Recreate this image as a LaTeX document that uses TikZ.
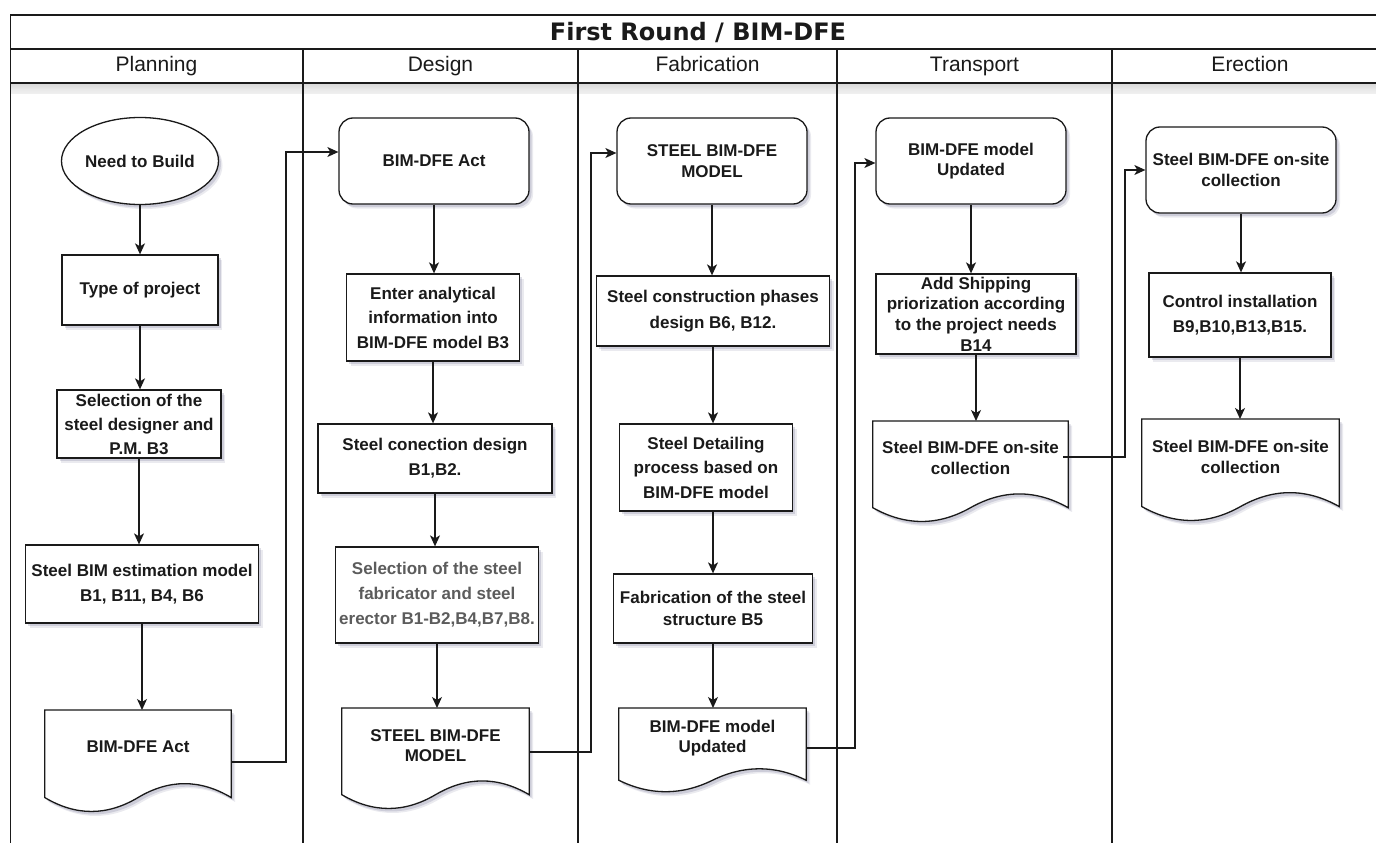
\documentclass[tikz,border=0pt]{standalone}
\usepackage{fontspec}
\setmainfont{Liberation Sans}
\newfontfamily\titlefont{DejaVu Sans}
\usetikzlibrary{shapes.geometric,arrows.meta,calc}

\definecolor{ink}{HTML}{1A1A1A}
\definecolor{shade}{RGB}{90,90,130}
\definecolor{softtext}{HTML}{5C5C5C}

% document symbol: flat top, wavy bottom (wave depth = 0.3 of the height)
\newcommand\docoutline[2]{%
  \draw[docline] let \p1=(#1.north west), \p2=(#1.north east),
      \n1={\x2-\x1}, \n2={#2*0.3} in
    (\p1) -- (\p2) -- (\x2,{\y1-#2+0.5*\n2})
    .. controls ({\x1+5/6*\n1},{\y1-#2+1.1*\n2}) and ({\x1+2/3*\n1},{\y1-#2+1.1*\n2}) .. ({\x1+0.5*\n1},{\y1-#2+0.5*\n2})
    .. controls ({\x1+1/3*\n1},{\y1-#2-0.1*\n2}) and ({\x1+1/6*\n1},{\y1-#2-0.1*\n2}) .. (\x1,{\y1-#2+0.5*\n2})
    -- cycle;}

\tikzset{
  boxshadow/.style={
    preaction={draw=none, fill=shade, fill opacity=0.12, transform canvas={shift={(4pt,-4.5pt)}}},
    preaction={draw=none, fill=shade, fill opacity=0.20, transform canvas={shift={(2.5pt,-3pt)}}}},
  lane/.style={draw=ink, line width=1.1pt},
  titletext/.style={font={\titlefont\bfseries\fontsize{24}{28}\selectfont}, text=ink},
  lanehead/.style={font={\fontsize{21}{25}\selectfont}, text=ink, text height=15pt, text depth=4.5pt},
  nodetext/.style={font={\bfseries\fontsize{17}{25}\selectfont}, text=ink, align=center},
  tightlines/.style={font={\bfseries\fontsize{17}{20.5}\selectfont}},
  procbox/.style={rectangle, draw=ink, line width=1.3pt, fill=white, boxshadow, nodetext, inner sep=1pt},
  termbox/.style={procbox, rounded corners=14pt, tightlines},
  startbox/.style={procbox, ellipse, inner sep=0pt},
  docbox/.style={rectangle, inner sep=0pt, anchor=north},
  doctext/.style={nodetext, tightlines, inner sep=0pt},
  docline/.style={draw=ink, line width=1.3pt, fill=white, boxshadow},
  flowarrow/.style={draw=ink, line width=1.3pt, arrows={-Stealth[length=11pt,width=10pt,inset=3pt]}},
  handover/.style={flowarrow, line width=1.2pt},
}

\begin{document}
\begin{tikzpicture}[x=1pt,y=-1pt]
\useasboundingbox (0,0) rectangle (1376,843);
\clip (0,0) rectangle (1376,843);
\fill[white] (0,0) rectangle (1376,843);

% pool frame, title row and lane headers
\fill[shade, fill opacity=0.10] (11,84) rectangle (1390,89);
\fill[shade, fill opacity=0.06] (11,89) rectangle (1390,94);
\draw[lane] (1390,15) -- (10.5,15) -- (10.5,850);
\draw[lane] (10.5,49) -- (1390,49);
\draw[lane] (10.5,83) -- (1390,83);
\foreach \lx in {303,578,837,1112} \draw[lane] (\lx,49) -- (\lx,850);

\node[titletext] (title) at (698,32) {First Round / BIM-DFE};
\node[lanehead] (hplan) at (156.5,66) {Planning};
\node[lanehead] (hdes)  at (440.5,66) {Design};
\node[lanehead] (hfab)  at (707.5,66) {Fabrication};
\node[lanehead] (htra)  at (974.5,66) {Transport};
\node[lanehead] (here)  at (1250,66) {Erection};

% ---------- Planning ----------
\node[startbox, minimum width=157pt, minimum height=87pt] (need) at (140,161) {Need to Build};
\node[procbox, minimum width=156pt, minimum height=70pt] (ptype) at (140,290) {Type of project};
\node[procbox, minimum width=164pt, minimum height=68pt, font={\bfseries\fontsize{17}{24}\selectfont}] (psel) at (139,424) {Selection of the\\steel designer and\\P.M. B3};
\node[procbox, minimum width=233pt, minimum height=78pt] (pest) at (142,584) {Steel BIM estimation model\\B1, B11, B4, B6};
\path node[docbox, minimum width=186pt, minimum height=103pt] (pdoc) at (138,710) {};
\docoutline{pdoc}{103}
\node[doctext] (pdoct) at ([yshift=-37pt]pdoc.north) {BIM-DFE Act};

% ---------- Design ----------
\node[termbox, minimum width=190pt, minimum height=86pt] (dact) at (434,161) {BIM-DFE Act};
\node[procbox, minimum width=173pt, minimum height=87pt, font={\bfseries\fontsize{17}{24.5}\selectfont}] (dent) at (433,317.5) {Enter analytical\\information into\\BIM-DFE model B3};
\node[procbox, minimum width=234pt, minimum height=69pt] (dcon) at (435,458.5) {Steel conection design\\B1,B2.};
\node[procbox, text=softtext, minimum width=203pt, minimum height=96pt] (dsel) at (437,595) {Selection of the steel\\fabricator and steel\\erector B1-B2,B4,B7,B8.};
\path node[docbox, minimum width=187pt, minimum height=102pt] (ddoc) at (435.5,708) {};
\docoutline{ddoc}{102}
\node[doctext] (ddoct) at ([yshift=-37.5pt]ddoc.north) {STEEL BIM-DFE\\MODEL};

% ---------- Fabrication ----------
\node[termbox, minimum width=190pt, minimum height=86pt] (fmod) at (712,161) {STEEL BIM-DFE\\MODEL};
\node[procbox, minimum width=233pt, minimum height=70pt, font={\bfseries\fontsize{17}{26}\selectfont}] (fpha) at (713,311) {Steel construction phases\\design B6, B12.};
\node[procbox, minimum width=173pt, minimum height=87pt, font={\bfseries\fontsize{17}{24.5}\selectfont}] (fdet) at (706,467.5) {Steel Detailing\\process based on\\BIM-DFE model};
\node[procbox, minimum width=199pt, minimum height=69pt, font={\bfseries\fontsize{17}{22}\selectfont}] (ffab) at (713,608.5) {Fabrication of the steel\\structure B5};
\path node[docbox, minimum width=187pt, minimum height=85pt] (fdoc) at (712.5,708) {};
\docoutline{fdoc}{85}
\node[doctext] (fdoct) at ([yshift=-30pt]fdoc.north) {BIM-DFE model\\Updated};

% ---------- Transport ----------
\node[termbox, minimum width=190pt, minimum height=86pt] (tmod) at (971,161) {BIM-DFE model\\Updated};
\node[procbox, minimum width=200pt, minimum height=80pt, font={\bfseries\fontsize{17}{20.7}\selectfont}] (tship) at (976,314) {Add Shipping\\priorization according\\to the project needs\\B14};
\path node[docbox, minimum width=195pt, minimum height=102pt] (tdoc) at (970.5,421) {};
\docoutline{tdoc}{102}
\node[doctext] (tdoct) at ([yshift=-37pt]tdoc.north) {Steel BIM-DFE on-site\\collection};

% ---------- Erection ----------
\node[termbox, minimum width=190pt, minimum height=86pt] (emod) at (1241,170) {Steel BIM-DFE on-site\\collection};
\node[procbox, minimum width=182pt, minimum height=84pt] (ectl) at (1240,315) {Control installation\\B9,B10,B13,B15.};
\path node[docbox, minimum width=197pt, minimum height=103pt] (edoc) at (1240.5,419) {};
\docoutline{edoc}{103}
\node[doctext] (edoct) at ([yshift=-38pt]edoc.north) {Steel BIM-DFE on-site\\collection};

% ---------- flow inside the lanes ----------
\draw[flowarrow] (need.south) -- (ptype.north);
\draw[flowarrow] (ptype.south) -- (ptype.south |- psel.north);
\draw[flowarrow] (psel.south) -- (psel.south |- pest.north);
\draw[flowarrow] (pest.south) -- (pest.south |- pdoc.north);
\draw[flowarrow] (dact.south) -- (dact.south |- dent.north);
\draw[flowarrow] (dent.south) -- (dent.south |- dcon.north);
\draw[flowarrow] (dcon.south) -- (dcon.south |- dsel.north);
\draw[flowarrow] (dsel.south) -- (dsel.south |- ddoc.north);
\draw[flowarrow] (fmod.south) -- (fmod.south |- fpha.north);
\draw[flowarrow] (fpha.south) -- (fpha.south |- fdet.north);
\draw[flowarrow] (ffab.north |- fdet.south) -- (ffab.north);
\draw[flowarrow] (ffab.south) -- (ffab.south |- fdoc.north);
\draw[flowarrow] (tmod.south) -- (tmod.south |- tship.north);
\draw[flowarrow] (tship.south) -- (tship.south |- tdoc.north);
\draw[flowarrow] (emod.south) -- (emod.south |- ectl.north);
\draw[flowarrow] (ectl.south) -- (ectl.south |- edoc.north);

% ---------- hand-over between lanes ----------
\coordinate (k1) at (286,152);
\coordinate (k2) at (591,153);
\coordinate (k3) at (855,163);
\coordinate (k4) at (1125,170);
\draw[handover] ([yshift=-52pt]pdoc.north east) -| (k1) -- (k1 -| dact.west);
\draw[handover] ([yshift=-44pt]ddoc.north east) -| (k2) -- (k2 -| fmod.west);
\draw[handover] ([yshift=-40pt]fdoc.north east) -| (k3) -- (k3 -| tmod.west);
\draw[handover] ([xshift=-5pt,yshift=-36pt]tdoc.north east) -| (k4) -- (k4 -| emod.west);
\end{tikzpicture}
\end{document}
